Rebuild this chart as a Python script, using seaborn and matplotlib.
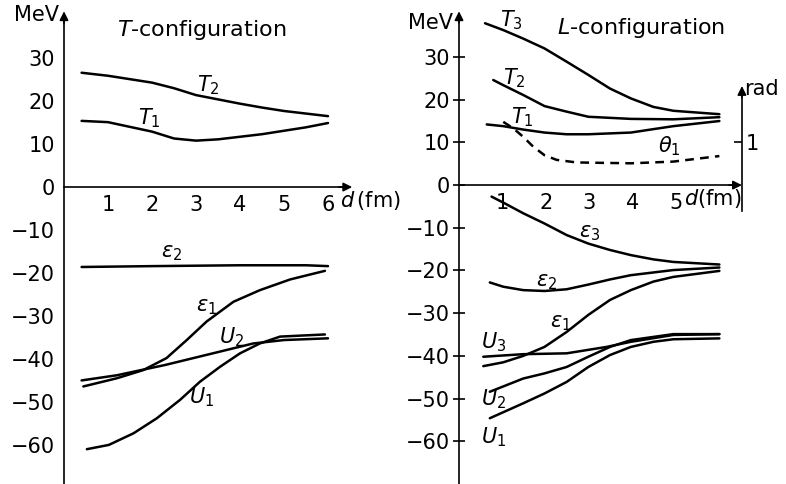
import numpy as np
import pandas as pd
import seaborn as sns
import matplotlib.pyplot as plt

# ---- T-configuration (left panel), energies in MeV vs d in fm ----
t_T2_d = [0.4, 1.0, 1.5, 2.0, 2.5, 3.0, 3.5, 4.0, 4.5, 5.0, 5.5, 6.0]
t_T2 = [26.6, 25.9, 25.1, 24.3, 23.0, 21.4, 20.4, 19.4, 18.5, 17.7, 17.1, 16.5]
t_T1_d = [0.4, 1.0, 1.5, 2.0, 2.5, 3.0, 3.5, 4.0, 4.5, 5.0, 5.5, 6.0]
t_T1 = [15.4, 15.1, 14.0, 12.9, 11.3, 10.8, 11.1, 11.7, 12.3, 13.1, 13.9, 14.9]
t_e2_d = [0.4, 2.0, 4.0, 5.5, 6.0]
t_e2 = [-18.6, -18.4, -18.2, -18.2, -18.4]
t_e1_d = [0.44, 1.2, 1.8, 2.33, 2.79, 3.24, 3.85, 4.45, 5.14, 5.93]
t_e1 = [-46.4, -44.5, -42.6, -39.8, -35.6, -31.3, -26.7, -24.0, -21.5, -19.5]
t_U2_d = [0.4, 1.2, 2.3, 3.3, 4.3, 5.0, 6.0]
t_U2 = [-45.0, -43.8, -41.4, -38.9, -36.4, -35.6, -35.2]
t_U1_d = [0.52, 1.02, 1.58, 2.11, 2.64, 3.09, 3.55, 4.0, 4.45, 4.91, 5.93]
t_U1 = [-61.0, -60.0, -57.3, -53.8, -49.5, -45.3, -41.8, -38.7, -36.4, -34.8, -34.3]

# ---- L-configuration (right panel) ----
l_T3_d = [0.6, 1.02, 1.48, 1.97, 2.48, 2.98, 3.48, 3.96, 4.48, 4.94, 6.0]
l_T3 = [37.9, 36.3, 34.3, 32.0, 28.9, 25.8, 22.6, 20.3, 18.3, 17.4, 16.6]
l_T2_d = [0.79, 1.02, 1.48, 1.97, 2.48, 2.98, 3.96, 4.94, 6.0]
l_T2 = [24.6, 23.4, 21.1, 18.5, 17.2, 16.0, 15.5, 15.4, 15.9]
l_T1_d = [0.64, 1.02, 1.48, 1.97, 2.48, 2.98, 3.96, 4.48, 4.94, 6.0]
l_T1 = [14.2, 13.8, 13.0, 12.3, 11.9, 11.9, 12.3, 13.1, 13.8, 15.0]
l_th1_d = [1.02, 1.25, 1.48, 1.71, 1.97, 2.25, 2.71, 3.96, 4.94, 6.0]
l_th1 = [1.48, 1.33, 1.13, 0.90, 0.70, 0.59, 0.53, 0.51, 0.55, 0.68]  # rad
l_e3_d = [0.75, 1.02, 1.48, 1.97, 2.48, 2.98, 3.48, 3.96, 4.48, 4.94, 6.0]
l_e3 = [-2.7, -4.1, -6.6, -9.0, -11.7, -13.7, -15.2, -16.4, -17.4, -18.0, -18.6]
l_e2_d = [0.71, 1.02, 1.48, 1.97, 2.48, 2.98, 3.48, 3.96, 4.94, 6.0]
l_e2 = [-22.8, -23.8, -24.6, -24.8, -24.4, -23.3, -22.1, -21.1, -19.9, -19.3]
l_e1_d = [0.56, 1.02, 1.48, 1.97, 2.48, 2.98, 3.48, 3.96, 4.48, 4.94, 6.0]
l_e1 = [-42.4, -41.5, -40.0, -37.9, -34.4, -30.4, -26.9, -24.6, -22.6, -21.5, -20.1]
l_U3_d = [0.56, 1.48, 2.48, 3.4, 3.96, 4.94, 6.0]
l_U3 = [-40.2, -39.6, -39.4, -37.9, -36.7, -35.1, -34.9]
l_U2_d = [0.71, 1.48, 1.97, 2.48, 2.98, 3.48, 3.96, 4.94, 6.0]
l_U2 = [-48.4, -45.3, -44.1, -42.6, -40.2, -37.9, -36.3, -34.9, -34.9]
l_U1_d = [0.71, 1.48, 1.97, 2.48, 2.98, 3.48, 3.96, 4.48, 4.94, 6.0]
l_U1 = [-54.6, -51.1, -48.8, -46.1, -42.6, -39.8, -37.9, -36.7, -36.1, -35.9]

y_ticks = [30, 20, 10, 0, -10, -20, -30, -40, -50, -60]
x_ticks = [1, 2, 3, 4, 5, 6]

sns.set_style('white')
plt.rcParams['font.family'] = ['DejaVu Sans']
plt.rcParams['mathtext.fontset'] = 'dejavusans'
plt.rcParams['text.color'] = 'k'
plt.rcParams['xtick.color'] = 'k'
plt.rcParams['ytick.color'] = 'k'
plt.rcParams['xtick.labelcolor'] = 'k'
plt.rcParams['ytick.labelcolor'] = 'k'
FS = 15
LW = 1.8


def setup_axes(ax, ylim, xlabels, xtip):
    ax.set_facecolor('none')
    ax.set_xlim(0, 6.6)
    ax.set_ylim(*ylim)
    ax.spines['top'].set_visible(False)
    ax.spines['right'].set_visible(False)
    ax.spines['left'].set_position(('data', 0))
    ax.spines['bottom'].set_position(('data', 0))
    ax.spines['left'].set_bounds(ylim[0], 40.0)
    ax.spines['bottom'].set_bounds(0, xtip - 0.1)
    for s in ['left', 'bottom']:
        ax.spines[s].set_linewidth(1.2)
        ax.spines[s].set_color('k')
    ax.set_yticks(y_ticks)
    ax.set_yticklabels([str(v).replace('-', '\u2212') for v in y_ticks], fontsize=FS)
    ax.set_xticks(x_ticks)
    ax.set_xticklabels(xlabels, fontsize=FS)
    ax.tick_params(axis='y', direction='inout', length=9, width=1.2, pad=2,
                   colors='k')
    ax.tick_params(axis='x', direction='in', length=6, width=1.2, pad=6,
                   colors='k')
    ax.set_xlabel('')
    ax.set_ylabel('')
    arrow = dict(arrowstyle='-|>', color='k', lw=1.2, mutation_scale=13,
                 shrinkA=0, shrinkB=0)
    ax.annotate('', xy=(0, ylim[1] - 0.3), xytext=(0, 38), arrowprops=arrow,
                annotation_clip=False)
    ax.annotate('', xy=(xtip, 0), xytext=(xtip - 0.3, 0), arrowprops=arrow,
                annotation_clip=False)


def curve(ax, d, v, **kw):
    sns.lineplot(x=d, y=v, ax=ax, color='k', lw=LW, sort=False, **kw)


fig = plt.figure(figsize=(7.86, 4.84), dpi=100)

# ---------------- left panel ----------------
ax1 = fig.add_axes([64 / 786, 0, 290.4 / 786, 474 / 484])
ylim1 = (-69.1, 41.2)
setup_axes(ax1, ylim1, [str(x) for x in x_ticks], 6.55)
for d, v in [(t_T2_d, t_T2), (t_T1_d, t_T1), (t_e2_d, t_e2),
             (t_e1_d, t_e1), (t_U2_d, t_U2), (t_U1_d, t_U1)]:
    curve(ax1, d, v)

ax1.text(-0.12, 40.0, 'MeV', fontsize=FS, ha='right', va='center')
ax1.text(3.14, 36.5, r'$T$-configuration', fontsize=FS + 1, ha='center', va='center')
ax1.text(6.27, -3.1, r'$d\,$(fm)', fontsize=FS, ha='left', va='center', clip_on=False)
lab = dict(fontsize=FS, ha='center', va='center')
ax1.text(3.27, 23.8, r'$T_2$', **lab)
ax1.text(1.95, 16.0, r'$T_1$', **lab)
ax1.text(2.45, -15.3, r'$\varepsilon_2$', **lab)
ax1.text(3.25, -28.0, r'$\varepsilon_1$', **lab)
ax1.text(3.8, -35.0, r'$U_2$', **lab)
ax1.text(3.13, -49.0, r'$U_1$', **lab)

# ---------------- right panel ----------------
ax2 = fig.add_axes([459 / 786, 0, 286.4 / 786, 474 / 484])
ylim2 = (-70.0, 41.0)
setup_axes(ax2, ylim2, ['1', '2', '3', '4', '5', ''], 6.52)
for d, v in [(l_T3_d, l_T3), (l_T2_d, l_T2), (l_T1_d, l_T1), (l_e3_d, l_e3),
             (l_e2_d, l_e2), (l_e1_d, l_e1), (l_U3_d, l_U3), (l_U2_d, l_U2),
             (l_U1_d, l_U1)]:
    curve(ax2, d, v)

ax2.text(-0.14, 38.0, 'MeV', fontsize=FS, ha='right', va='center')
ax2.text(4.2, 36.8, r'$L$-configuration', fontsize=FS + 1, ha='center', va='center')
ax2.text(5.18, -3.1, r'$d$(fm)', fontsize=FS, ha='left', va='center')
ax2.text(1.2, 38.5, r'$T_3$', **lab)
ax2.text(1.27, 25.0, r'$T_2$', **lab)
ax2.text(1.47, 15.8, r'$T_1$', **lab)
ax2.text(4.85, 9.0, r'$\theta_1$', **lab)
ax2.text(3.02, -11.3, r'$\varepsilon_3$', **lab)
ax2.text(2.02, -22.8, r'$\varepsilon_2$', **lab)
ax2.text(2.35, -32.2, r'$\varepsilon_1$', **lab)
ax2.text(0.8, -36.8, r'$U_3$', **lab)
ax2.text(0.8, -50.2, r'$U_2$', **lab)
ax2.text(0.8, -59.0, r'$U_1$', **lab)

# rad axis for theta_1
tw = ax2.twinx()
tw.set_position(ax2.get_position())
tw.set_facecolor('none')
tw.set_ylim(ylim2[0] / 10, ylim2[1] / 10)
for s in ['left', 'top', 'bottom']:
    tw.spines[s].set_visible(False)
tw.spines['right'].set_position(('data', 6.52))
tw.spines['right'].set_bounds(-0.6, 2.2)
tw.spines['right'].set_linewidth(1.2)
tw.spines['right'].set_color('k')
tw.set_yticks([1])
tw.set_yticklabels(['1'], fontsize=FS)
tw.tick_params(axis='y', direction='in', length=6, width=1.2, pad=3, colors='k')
tw.annotate('', xy=(6.52, 2.32), xytext=(6.52, 2.05),
            arrowprops=dict(arrowstyle='-|>', color='k', lw=1.2, mutation_scale=13,
                            shrinkA=0, shrinkB=0), annotation_clip=False)
tw.text(6.58, 2.25, 'rad', fontsize=FS, ha='left', va='center', clip_on=False)
sns.lineplot(x=l_th1_d, y=l_th1, ax=tw, color='k', lw=LW, sort=False,
             linestyle=(0, (3.5, 2.5)))
tw.set_ylabel('')

fig.savefig('out.png', dpi=100)
